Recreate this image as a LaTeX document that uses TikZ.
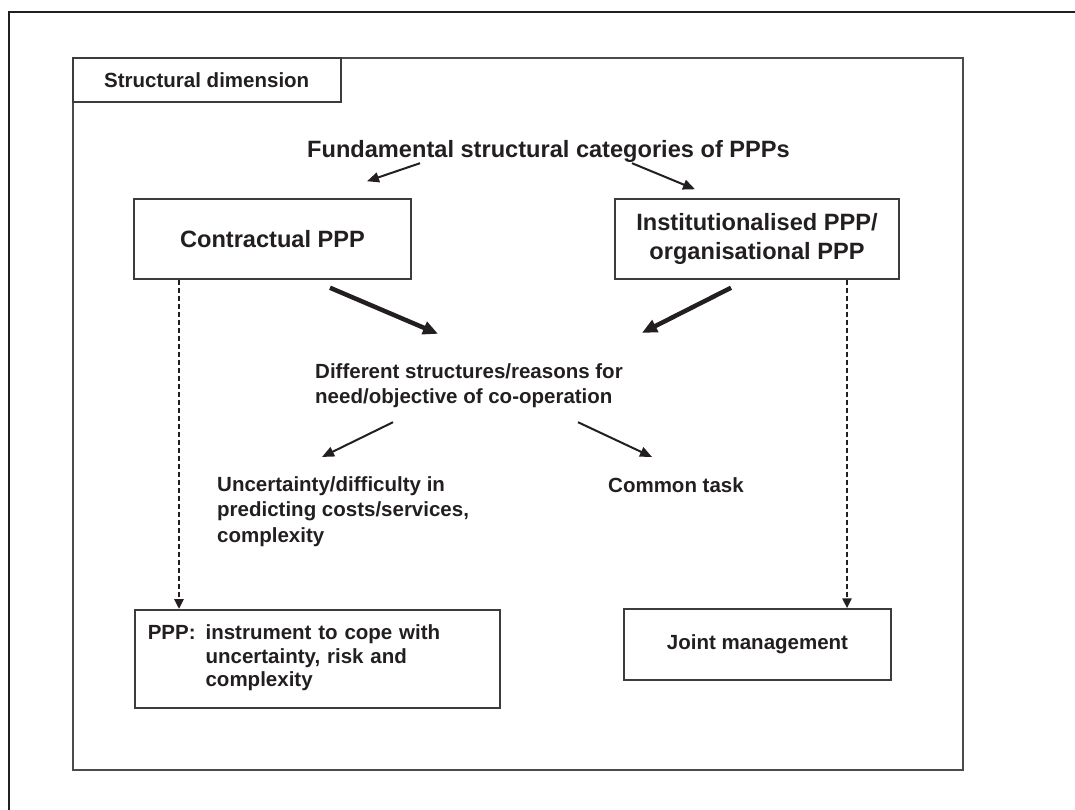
\documentclass[tikz,border=0pt]{standalone}
\usepackage{fontspec}
\setmainfont{Liberation Sans}
\usetikzlibrary{arrows.meta,calc}
\definecolor{ink}{RGB}{35,31,32}
\definecolor{boxline}{RGB}{60,60,60}
\definecolor{frameline}{RGB}{75,75,75}
\begin{document}
\begin{tikzpicture}[x=1pt,y=-1pt,
  txt/.style={font=\fontsize{20.5}{25}\selectfont\bfseries, text=ink, inner sep=0pt},
  bigtxt/.style={font=\fontsize{23.6}{29}\selectfont\bfseries, text=ink, inner sep=0pt},
  box/.style={draw=boxline, line width=1.5pt, fill=white, inner sep=0pt},
  framebox/.style={draw=frameline, line width=1.6pt, inner sep=0pt},
  arr/.style={draw=ink, line width=2pt, -{Triangle[length=12pt,width=10pt]}},
  heavyarr/.style={draw=ink, line width=4.5pt, -{Triangle[length=15pt,width=13pt]}},
  dasharr/.style={draw=ink, line width=2.6pt, dash pattern=on 5pt off 3pt,
    -{Triangle[length=10pt,width=9pt]}}]
\useasboundingbox (0,0) rectangle (1075,809);

% outer page frame (top and left edges)
\draw[ink, line width=2.5pt] (9,820) -- (9,12) -- (1085,12);

% section frame and its title tab
\node[framebox, anchor=north west, minimum width=890pt, minimum height=712pt] (frame) at (72,57) {};
\node[box, txt, anchor=north west, minimum width=268pt, minimum height=44pt] (title) at (72,57) {Structural dimension};

% headline
\node[bigtxt, anchor=base] (fund) at (548.5,157) {Fundamental structural categories of PPPs};

% the two PPP categories
\node[box, bigtxt, minimum width=277pt, minimum height=80pt] (contract) at (272.5,239) {Contractual PPP};
\node[box, bigtxt, minimum width=284pt, minimum height=80pt] (inst) at (757,239)
  {\begin{tabular}{@{}c@{}}Institutionalised PPP/\\organisational PPP\end{tabular}};

% reasons for co-operation
\node[txt, anchor=base west] (diff) at (315,378)
  {\begin{tabular}[t]{@{}l@{}}Different structures/reasons for\\need/objective of co-operation\end{tabular}};
\node[txt, anchor=base west, font=\fontsize{20.5}{25.5}\selectfont\bfseries] (uncert) at (217,491)
  {\begin{tabular}[t]{@{}l@{}}Uncertainty/difficulty in\\predicting costs/services,\\complexity\end{tabular}};
\node[txt, anchor=base west] (common) at (608,492) {Common task};

% outcomes
\node[box, txt, anchor=north west, minimum height=98pt, text width=339pt, inner xsep=13pt, align=left,
  font=\fontsize{20.5}{23.5}\selectfont\bfseries] (ppp) at (134,609)
  {\begin{tabular}{@{}l@{\hspace{10pt}}l@{}}PPP: & instrument to cope with\\ & uncertainty, risk and\\ & complexity\end{tabular}};
\node[box, txt, minimum width=267pt, minimum height=71pt] (joint) at (757.5,644.5) {Joint management};

% connectors
\draw[arr] ($(fund.south)+(-128.5,1)$) -- ($(contract.north)+(94.5,-17)$);
\draw[arr] ($(fund.south)+(83.5,1)$) -- ($(inst.north)+(-62,-9)$);

\draw[heavyarr] ($(contract.south)+(57.5,8)$) -- ($(diff.north west)+(123,-26.5)$);
\draw[heavyarr] ($(inst.south)+(-26,8)$) -- ($(diff.north west)+(327,-27.5)$);

\draw[arr] ($(diff.south west)+(78,11.5)$) -- ($(uncert.north west)+(105,-16)$);
\draw[arr] ($(diff.south west)+(263,11.5)$) -- ($(common.north west)+(44,-20)$);

% dashed links straight down to the outcome boxes
\coordinate (cdrop) at ($(contract.south)+(-93.5,0)$);
\coordinate (idrop) at ($(inst.south)+(90,0)$);
\draw[dasharr] (cdrop) -- (cdrop |- ppp.north);
\draw[dasharr] (idrop) -- (idrop |- joint.north);
\end{tikzpicture}
\end{document}
